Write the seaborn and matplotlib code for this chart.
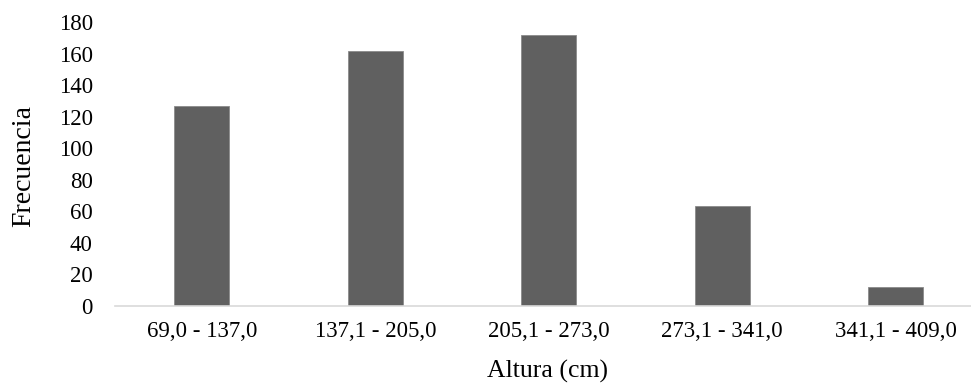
import matplotlib
matplotlib.use("Agg")
import matplotlib.pyplot as plt
import seaborn as sns
import pandas as pd

# Frequency of heights per class interval
clases = ["69,0 - 137,0", "137,1 - 205,0", "205,1 - 273,0", "273,1 - 341,0", "341,1 - 409,0"]
frecuencia = [127, 162, 172, 63, 12]
yticks = [0, 20, 40, 60, 80, 100, 120, 140, 160, 180]

df = pd.DataFrame({"Altura (cm)": clases, "Frecuencia": frecuencia})

sns.set_theme(style="white")
plt.rcParams["font.family"] = ["Liberation Serif", "DejaVu Serif"]

W, H = 971, 386
fig = plt.figure(figsize=(W / 100, H / 100), dpi=100)
# axes box in pixel coordinates (left, bottom, width, height)
ax = fig.add_axes([115 / W, 80.5 / H, 867.5 / W, 283 / H])

sns.barplot(data=df, x="Altura (cm)", y="Frecuencia", color="#606060",
            width=0.317, saturation=1, ax=ax, edgecolor="#8a8a8a", linewidth=0.6)

ax.set_xlim(-0.5, 4.5)
ax.set_ylim(0, 180)
ax.set_yticks(yticks)
ax.set_yticklabels([str(v) for v in yticks])

for side in ["top", "right", "left"]:
    ax.spines[side].set_visible(False)
ax.spines["bottom"].set_color("#d9d9d9")
ax.spines["bottom"].set_linewidth(1.2)

ax.tick_params(axis="both", length=0, labelsize=16.5, colors="#000000")
ax.tick_params(axis="y", pad=16)
ax.tick_params(axis="x", pad=11.5)

ax.set_xlabel("Altura (cm)", fontsize=18.5, color="#000000")
ax.xaxis.set_label_coords((547 - 115) / 867.5, -(371 - 305.5) / 283)
ax.set_ylabel("Frecuencia", fontsize=20, color="#000000")
ax.yaxis.set_label_coords(-(115 - 24) / 867.5, (305.5 - 166) / 283)
ax.yaxis.label.set_va("center")
ax.xaxis.label.set_va("center")

fig.savefig("out.png", dpi=100, facecolor="white")
